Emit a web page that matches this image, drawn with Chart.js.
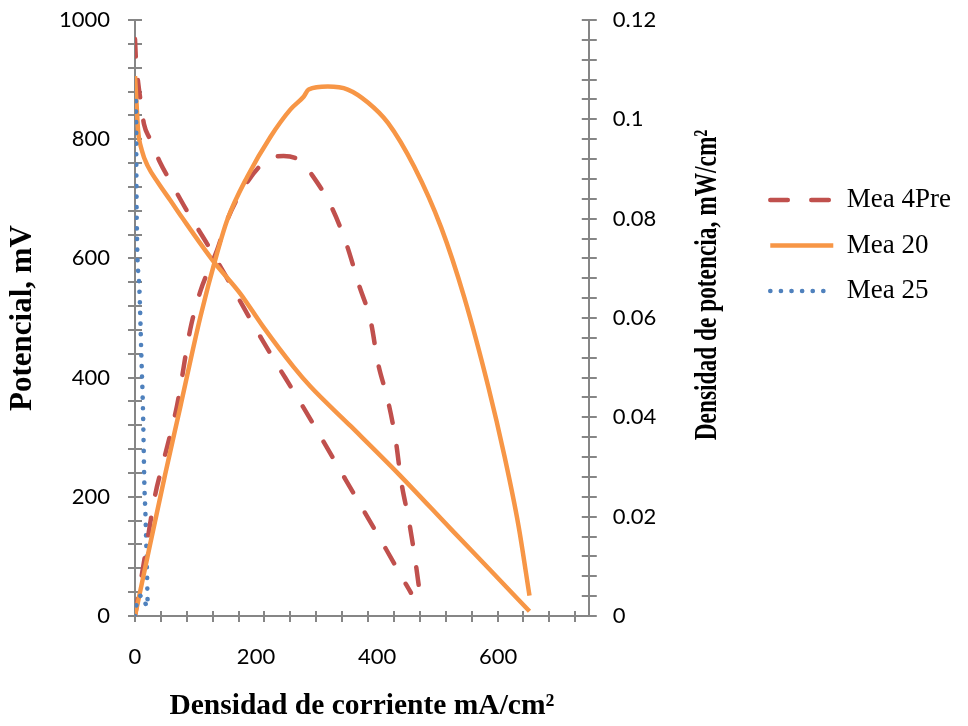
<!DOCTYPE html>
<html>
<head>
<meta charset="utf-8">
<script src="https://cdn.jsdelivr.net/npm/chart.js@4.4.1/dist/chart.umd.min.js"></script>
<style>
  html, body { margin: 0; padding: 0; background: #fff; }
  #wrap { width: 968px; height: 726px; }
</style>
</head>
<body>
<div id="wrap"><canvas id="curvaChart"></canvas></div>
<script>
/* Datos: densidad de corriente (mA/cm2), potencial (mV), densidad de potencia */

// Mea 4Pre
const mea4PreCorriente = [0, 1.7, 5, 10, 14.9, 24.9, 41.5, 61.4, 86.3, 119.5, 161, 211, 280, 348, 415, 448, 456];
const mea4PrePotencial = [968, 931, 897, 859, 825, 800, 761, 724, 679, 624, 551, 462, 347, 229, 112, 53, 39];
const mea4PreCorrienteP = [0, 16.6, 33.2, 46.5, 69.7, 91.3, 107.8, 136, 152.6, 187.5, 220.7, 245.6, 273.8, 292, 325, 350, 370, 390, 401.5, 418, 431, 440, 453, 463, 473];
const mea4PrePotencia = [0, 0.0122, 0.0243, 0.0309, 0.0425, 0.0577, 0.0653, 0.0738, 0.0798, 0.0877, 0.0920, 0.0926, 0.0916, 0.0889, 0.0823, 0.0747, 0.0667, 0.0591, 0.0510, 0.0434, 0.0353, 0.0271, 0.0190, 0.0114, 0.0025];

// Mea 20
const mea20Corriente = [0, 2.8, 5, 11.1, 21.6, 38.2, 58, 77.5, 129, 174, 212, 262, 290, 357, 435, 523, 589, 652];
const mea20Potencial = [906, 855, 816, 782, 754, 727, 698, 669, 596, 541, 485, 418, 385, 318, 239, 145, 75, 8];
const mea20CorrienteP = [0, 24.9, 49.8, 74.7, 107.8, 136, 152.6, 185.8, 224, 257, 279, 287, 318.6, 351.7, 384.9, 418.1, 461.3, 506.1, 544.3, 584, 610.6, 633.8, 652];
const mea20Potencia = [0, 0.0144, 0.0285, 0.0420, 0.0601, 0.0732, 0.0798, 0.0885, 0.0965, 0.1020, 0.1046, 0.1060, 0.1066, 0.1060, 0.1034, 0.0993, 0.0905, 0.0782, 0.0641, 0.0461, 0.0322, 0.0182, 0.0041];

// Mea 25
const mea25Corriente = [1.7, 2.8, 7.1, 10.5, 13.3, 15.4, 17.4, 19.4, 21.1];
const mea25Potencial = [864, 669, 553, 437, 341, 224, 167, 90, 11];
const mea25CorrienteP = [0, 2.8, 11.6, 19.1, 21.6];
const mea25Potencia = [0, 0.0025, 0.0041, 0.0019, 0.0011];

// Ejes
const xLabelValues = [0, 200, 400, 600];
const xMinorStep = 42.8;
const xMax = 750;
const yMax = 1000;
const yStep = 40;
const yLabelStep = 200;
const y1Max = 0.12;
const y1Step = 0.004;

const AXIS_GRAY = '#868686';
const RED = '#C0504D';
const ORANGE = '#F79646';
const BLUE = '#4F81BD';

function pts(xs, ys) {
  return xs.map((x, i) => ({ x: x, y: ys[i] }));
}

const dashed = [17.5, 23.5];
const dotted = [0.1, 10.5];

function serie(label, data, color, dash, axis, order) {
  return {
    label: label,
    data: data,
    yAxisID: axis,
    order: order,
    borderColor: color,
    backgroundColor: color,
    borderWidth: dash === dotted ? 4.6 : 4.5,
    borderDash: dash || [],
    borderCapStyle: dash ? 'round' : 'butt',
    borderJoinStyle: 'round',
    pointRadius: 0,
    fill: false,
    cubicInterpolationMode: 'monotone'
  };
}

// ancho/alto fijo de cada eje, sin relleno extra por las etiquetas
function fixSize(prop, size) {
  return scale => {
    scale[prop] = size;
    scale.paddingTop = 0;
    scale.paddingBottom = 0;
    scale.paddingLeft = 0;
    scale.paddingRight = 0;
  };
}

/* Marcas de escala hacia dentro del área (cruzan el eje) */
const innerTicks = {
  id: 'innerTicks',
  beforeDatasetsDraw(chart) {
    const { ctx, chartArea: a, scales } = chart;
    ctx.save();
    ctx.strokeStyle = AXIS_GRAY;
    ctx.lineWidth = 2;
    ctx.beginPath();
    scales.x.ticks.forEach(t => {
      if (t.mark === false) return;
      const px = Math.round(scales.x.getPixelForValue(t.value));
      ctx.moveTo(px, a.bottom);
      ctx.lineTo(px, a.bottom - 5);
    });
    scales.y.ticks.forEach(t => {
      const py = Math.round(scales.y.getPixelForValue(t.value));
      ctx.moveTo(a.left, py);
      ctx.lineTo(a.left + 7, py);
    });
    scales.y1.ticks.forEach(t => {
      const py = Math.round(scales.y1.getPixelForValue(t.value));
      ctx.moveTo(a.right, py);
      ctx.lineTo(a.right - 7, py);
    });
    ctx.stroke();
    ctx.restore();
  }
};

/* Titulo del eje secundario, leído de abajo hacia arriba */
const rightTitle = {
  id: 'rightTitle',
  afterDraw(chart) {
    const ctx = chart.ctx;
    const a = chart.chartArea;
    ctx.save();
    ctx.translate(a.right + 119, 285);
    ctx.rotate(-Math.PI / 2);
    ctx.scale(0.73, 1);
    ctx.font = 'bold 32px "Liberation Serif"';
    ctx.fillStyle = '#000';
    ctx.textAlign = 'center';
    ctx.textBaseline = 'middle';
    ctx.fillText('Densidad de potencia, mW/cm²', 0, 0);
    ctx.restore();
  }
};

const tickFont = { family: 'Lato', size: 22 };

const config = {
  type: 'line',
  data: {
    datasets: [
      serie('Mea 4Pre', pts(mea4PreCorriente, mea4PrePotencial), RED, dashed, 'y', 6),
      serie('Mea 20', pts(mea20Corriente, mea20Potencial), ORANGE, null, 'y', 5),
      serie('Mea 25', pts(mea25Corriente, mea25Potencial), BLUE, dotted, 'y', 4),
      serie('Mea 4Pre P', pts(mea4PreCorrienteP, mea4PrePotencia), RED, dashed, 'y1', 3),
      serie('Mea 20 P', pts(mea20CorrienteP, mea20Potencia), ORANGE, null, 'y1', 2),
      serie('Mea 25 P', pts(mea25CorrienteP, mea25Potencia), BLUE, dotted, 'y1', 1)
    ]
  },
  options: {
    responsive: true,
    maintainAspectRatio: false,
    animation: false,
    layout: { padding: { top: 20, right: 7, bottom: 0, left: 0 } },
    plugins: {
      tooltip: { enabled: false },
      legend: {
        position: 'right',
        align: 'start',
        maxWidth: 230,
        title: { display: true, text: '', padding: { top: 138, bottom: 0 }, font: { size: 10, lineHeight: 1 } },
        labels: {
          usePointStyle: true,
          pointStyleWidth: 63,
          padding: 18.5,
          color: '#000',
          font: { family: 'Liberation Serif', size: 27 },
          // solo las curvas de polarización, con su trazo
          generateLabels: chart => chart.data.datasets.slice(0, 3).map((ds, i) => ({
            text: ds.label,
            datasetIndex: i,
            hidden: false,
            fillStyle: ds.borderColor,
            strokeStyle: ds.borderColor,
            fontColor: '#000',
            lineWidth: ds.borderWidth,
            lineDash: ds.borderDash,
            lineCap: ds.borderCapStyle,
            pointStyle: 'line'
          }))
        }
      }
    },
    scales: {
      x: {
        type: 'linear',
        position: 'bottom',
        min: 0,
        max: xMax,
        afterBuildTicks: scale => {
          const ticks = [];
          for (let k = 0; k * xMinorStep <= scale.max; k++) ticks.push({ value: k * xMinorStep, mark: true });
          xLabelValues.forEach(v => { if (v > 0) ticks.push({ value: v, mark: false }); });
          ticks.sort((a, b) => a.value - b.value);
          scale.ticks = ticks;
        },
        afterFit: fixSize('height', 110),
        border: { display: true, color: AXIS_GRAY, width: 2 },
        grid: {
          drawOnChartArea: false,
          tickLength: 6,
          lineWidth: 2,
          tickColor: c => (c.tick && c.tick.mark === false) ? 'transparent' : AXIS_GRAY
        },
        ticks: {
          autoSkip: false,
          maxRotation: 0,
          padding: 22,
          color: '#000',
          font: tickFont,
          callback: v => xLabelValues.includes(v) ? String(v) : ''
        },
        title: {
          display: true,
          text: 'Densidad de corriente mA/cm²',
          color: '#000',
          padding: { top: 0, bottom: 2 },
          font: { family: 'Liberation Serif', size: 29.5, weight: 'bold' }
        }
      },
      y: {
        type: 'linear',
        position: 'left',
        min: 0,
        max: yMax,
        afterFit: fixSize('width', 135),
        border: { display: true, color: AXIS_GRAY, width: 2 },
        grid: { drawOnChartArea: false, tickLength: 7, lineWidth: 2, color: AXIS_GRAY },
        ticks: {
          stepSize: yStep,
          autoSkip: false,
          padding: 18,
          color: '#000',
          font: tickFont,
          callback: v => v % yLabelStep === 0 ? String(v) : ''
        },
        title: {
          display: true,
          text: 'Potencial, mV',
          color: '#000',
          padding: { top: 4, bottom: 0 },
          font: { family: 'Liberation Serif', size: 31, weight: 'bold' }
        }
      },
      y1: {
        type: 'linear',
        position: 'right',
        min: 0,
        max: y1Max,
        afterFit: fixSize('width', 163),
        border: { display: true, color: AXIS_GRAY, width: 2 },
        grid: { drawOnChartArea: false, tickLength: 8, lineWidth: 2, color: AXIS_GRAY },
        ticks: {
          stepSize: y1Step,
          autoSkip: false,
          padding: 16,
          color: '#000',
          font: tickFont,
          callback: v => Math.round(v * 1000) % 20 === 0 ? String(v) : ''
        }
      }
    }
  },
  plugins: [innerTicks, rightTitle]
};

const curvaChart = new Chart(document.getElementById('curvaChart'), config);
</script>
</body>
</html>
